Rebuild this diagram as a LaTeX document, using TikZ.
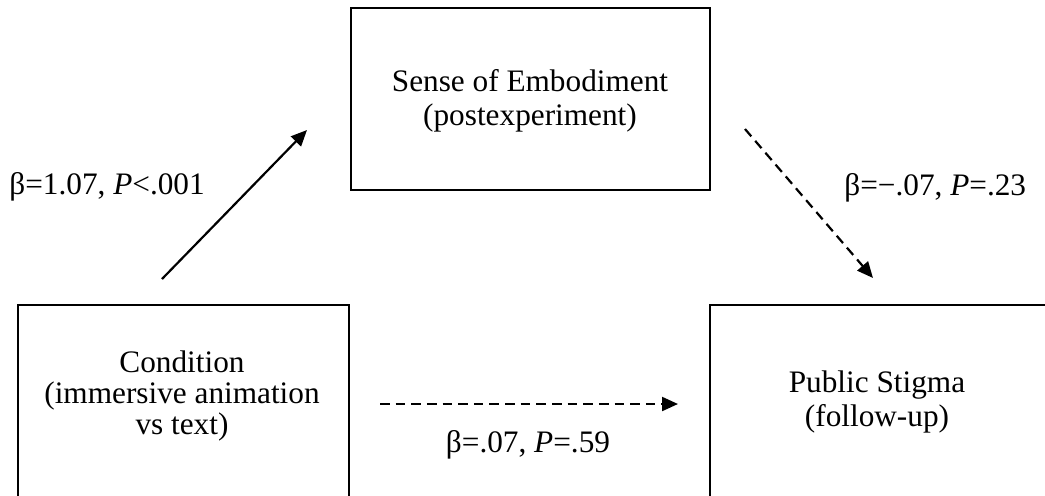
\documentclass[tikz,border=0pt]{standalone}
\usepackage{fontspec}
\setmainfont{Liberation Serif}
\usetikzlibrary{arrows.meta}
\begin{document}
\begin{tikzpicture}[x=0.02cm,y=-0.02cm,
  box/.style={draw=black,line width=1.5pt,rectangle,inner sep=0pt},
  txt/.style={align=center,inner sep=0pt,font=\fontsize{17.8}{19.2}\selectfont},
  lab/.style={inner sep=0pt,font=\fontsize{17.8}{19.2}\selectfont},
  conn/.style={line width=1.25pt,-{Triangle[length=0.32cm,width=0.28cm]}},
  dconn/.style={conn,dash pattern=on 5.5pt off 3.4pt}]
\useasboundingbox (0,0) rectangle (1045,495);
\clip (0,0) rectangle (1045,495);
% boxes
\node[box,minimum width=7.18cm,minimum height=3.64cm] (emb) at (530.5,99) {};
\node[box,minimum width=6.62cm,minimum height=4.4cm] (cond) at (183.5,415) {};
\node[box,minimum width=7.4cm,minimum height=4.4cm] (stig) at (895,415) {};
% box texts
\node[txt] (embt) at (530,101) {Sense of Embodiment\\(postexperiment)};
\node[txt,font=\fontsize{17.8}{17.6}\selectfont] (condt) at (182,396) {Condition\hspace{0.68cm}\\(immersive animation\\vs text)\hspace{0.12cm}};
\node[txt] (stigt) at (877,402) {Public Stigma\\(follow-up)};
% connector end points
\coordinate (a1) at (162,279);
\coordinate (a2) at (307,130);
\coordinate (b1) at (745,129);
\coordinate (b2) at (873,278);
\coordinate (c1) at (380,404);
\coordinate (c2) at (678,404);
\draw[conn] (a1) -- (a2);
\draw[dconn] (b1) -- (b2);
\draw[dconn] (c1) -- (c2);
% labels
\node[lab,anchor=west] (la) at (9,187) {β=1.07, \textit{P}<.001};
\node[lab,anchor=west] (lb) at (844,188) {β=−.07, \textit{P}=.23};
\node[lab] (lc) at (528,445) {β=.07, \textit{P}=.59};
\end{tikzpicture}
\end{document}
